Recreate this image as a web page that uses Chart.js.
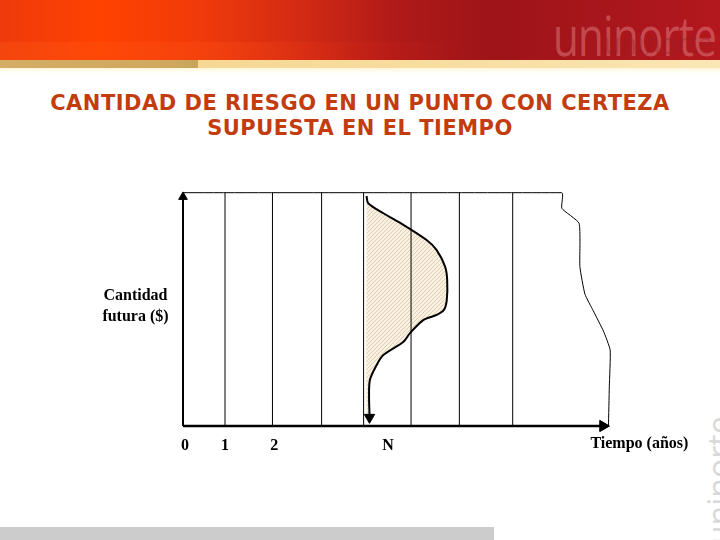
<!DOCTYPE html>
<html>
<head>
<meta charset="utf-8">
<script src="https://cdn.jsdelivr.net/npm/chart.js@4.4.1/dist/chart.umd.min.js"></script>
<style>
  html,body{margin:0;padding:0;background:#fff;}
  #wrap{position:relative;width:720px;height:540px;overflow:hidden;background:#fff;}
  .abs{position:absolute;}
  #hdr{left:0;top:0;width:720px;height:60px;
    background:linear-gradient(to right,#ee3a0c 0%,#ff4200 14%,#f03a0a 28%,#d22a14 42%,#b01a18 55%,#9e1418 68%,#a8161c 85%,#b3181e 100%);}
  #hdr2{left:0;top:42px;width:720px;height:18px;
    background:linear-gradient(to right,rgba(255,90,20,0.35) 0%,rgba(255,80,20,0.3) 30%,rgba(230,40,20,0.15) 50%,rgba(200,20,20,0) 65%);}
  #band1{left:0;top:60px;width:198px;height:8px;background:linear-gradient(to right,#d4ad66,#cfa95e 80%,#c9a55c);}
  #band2{left:198px;top:60px;width:522px;height:8px;background:linear-gradient(to right,#f6d893,#f8dfa4 60%,#fae6b6);}
  #fade{left:0;top:68px;width:720px;height:6px;background:linear-gradient(to bottom,#fff7dc,#ffffff);}
  #wm1{left:553px;top:-2px;font:54px "Open Sans",sans-serif;color:rgba(255,190,190,0.33);letter-spacing:-1px;white-space:nowrap;transform-origin:0 0;transform:scaleX(0.78);}
  #wm2{left:604px;top:22px;font:30px "Open Sans",sans-serif;color:rgba(150,30,40,0.35);white-space:nowrap;transform-origin:0 0;transform:scaleX(0.9);}
  #title{left:0;top:91px;width:720px;text-align:center;font:bold 21px "DejaVu Sans",sans-serif;letter-spacing:0.5px;line-height:25px;color:#c23c0e;}
  #gbar{left:0;top:527px;width:494px;height:13px;background:#cccccc;}
  #wm3{left:697px;top:545px;font:32px "Open Sans",sans-serif;color:#d8d8d8;transform-origin:0 0;transform:rotate(-90deg);white-space:nowrap;}
  canvas{position:absolute;left:0;top:0;}
</style>
</head>
<body>
<div id="wrap">
  <div id="hdr" class="abs"></div>
  <div id="hdr2" class="abs"></div>
  <div id="wm1" class="abs">uninorte</div>
  <div id="wm2" class="abs">uninorte</div>
  <div id="band1" class="abs"></div>
  <div id="band2" class="abs"></div>
  <div id="fade" class="abs"></div>
  <div id="title" class="abs">CANTIDAD DE RIESGO EN UN PUNTO CON CERTEZA<br>SUPUESTA EN EL TIEMPO</div>
  <div id="gbar" class="abs"></div>
  <div id="wm3" class="abs">uninorte</div>
  <canvas id="c" width="720" height="540"></canvas>
</div>
<script>
// ---- data (time units on x, amount units on y) ----
const gridX = [1, 2.13, 3.30, 4.30, 5.43, 6.58, 7.85];
const curveX = [4.37, 4.41, 4.77, 5.25, 5.80, 6.04, 6.24, 6.29, 6.28, 6.21, 6.04, 5.72, 5.40, 5.25, 4.77, 4.61, 4.45, 4.43, 4.44, 4.44];
const curveY = [9.86, 9.55, 9.12, 8.62, 7.97, 7.54, 6.83, 6.26, 5.40, 4.97, 4.76, 4.54, 3.97, 3.61, 3.04, 2.61, 1.97, 1.26, 0.54, 0.45];
const edgeX = [0, 9.02, 9.02, 9.43, 9.45, 9.57, 9.77, 10.01, 10.17, 10.15, 10.13];
const edgeY = [10, 10, 9.33, 8.69, 6.83, 5.65, 4.93, 4.07, 3.26, 1.68, 0];
const tickPos = [0.05, 1, 2.17, 4.88];
const tickLabels = ['0', '1', '2', 'N'];
const xTitle = 'Tiempo (años)';
const yTitle = ['Cantidad', 'futura ($)'];

const pts = (xs, ys) => xs.map((x, i) => ({x, y: ys[i]}));

// hatch pattern
const pc = document.createElement('canvas');
pc.width = 4; pc.height = 4;
const g = pc.getContext('2d');
g.fillStyle = '#f8f0e2'; g.fillRect(0, 0, 4, 4);
g.strokeStyle = '#e2cfad'; g.lineWidth = 1;
g.beginPath(); g.moveTo(0, 4); g.lineTo(4, 0); g.stroke();
g.beginPath(); g.moveTo(-1, 1); g.lineTo(1, -1); g.stroke();
g.beginPath(); g.moveTo(3, 5); g.lineTo(5, 3); g.stroke();
const ctx0 = document.getElementById('c').getContext('2d');
const hatch = ctx0.createPattern(pc, 'repeat');

const shapePts = pts(curveX, curveY).concat([{x: curveX[0], y: curveY[curveY.length - 2]}, {x: curveX[0], y: curveY[0]}]);

const line = (data, w, extra) => Object.assign({
  data, showLine: true, borderColor: '#000', borderWidth: w, pointRadius: 0, fill: false, tension: 0, clip: false
}, extra || {});
const arrow = (x, y, r, rot) => ({
  data: [{x, y}], showLine: false, pointStyle: 'triangle', pointRadius: r, rotation: rot,
  backgroundColor: '#000', borderColor: '#000', borderWidth: 1, clip: false
});

const datasets = [
  arrow(0, 9.82, 5, 0),
  arrow(10.0, 0, 6.5, 90),
  arrow(4.44, 0.37, 6, 180),
  line([{x: 0, y: 0}, {x: 0, y: 9.9}], 2),
  line([{x: 0, y: 0}, {x: 10.05, y: 0}], 2.5),
  line(pts(curveX, curveY), 2, {tension: 0.3}),
  line(pts(edgeX, edgeY), 1, {tension: 0.15}),
  ...gridX.map(x => line([{x, y: 0}, {x, y: 10}], 1)),
  line(shapePts, 0, {fill: 'shape', backgroundColor: hatch, borderColor: 'rgba(0,0,0,0)', tension: 0.3})
];

const labelsPlugin = {
  id: 'labels',
  afterDatasetsDraw(chart) {
    const c = chart.ctx, xs = chart.scales.x, ys = chart.scales.y;
    c.save();
    c.fillStyle = '#000';
    c.font = 'bold 16px "Liberation Serif", serif';
    c.textAlign = 'center';
    c.textBaseline = 'alphabetic';
    const y0 = ys.getPixelForValue(0);
    tickPos.forEach((v, i) => c.fillText(tickLabels[i], xs.getPixelForValue(v), y0 + 24));
    c.textAlign = 'left';
    c.fillText(xTitle, xs.getPixelForValue(9.7), y0 + 22);
    c.textAlign = 'center';
    c.fillText(yTitle[0], 135.5, ys.getPixelForValue(5.4));
    c.fillText(yTitle[1], 135.5, ys.getPixelForValue(4.5));
    c.restore();
  }
};

new Chart(ctx0, {
  type: 'scatter',
  data: {datasets},
  options: {
    responsive: false,
    animation: false,
    events: [],
    devicePixelRatio: 1,
    layout: {padding: {left: 183, right: 106.5, top: 192.7, bottom: 114}},
    scales: {
      x: {type: 'linear', min: 0, max: 10.25, display: false},
      y: {type: 'linear', min: 0, max: 10, display: false}
    },
    plugins: {legend: {display: false}, tooltip: {enabled: false}}
  },
  plugins: [labelsPlugin]
});
</script>
</body>
</html>
